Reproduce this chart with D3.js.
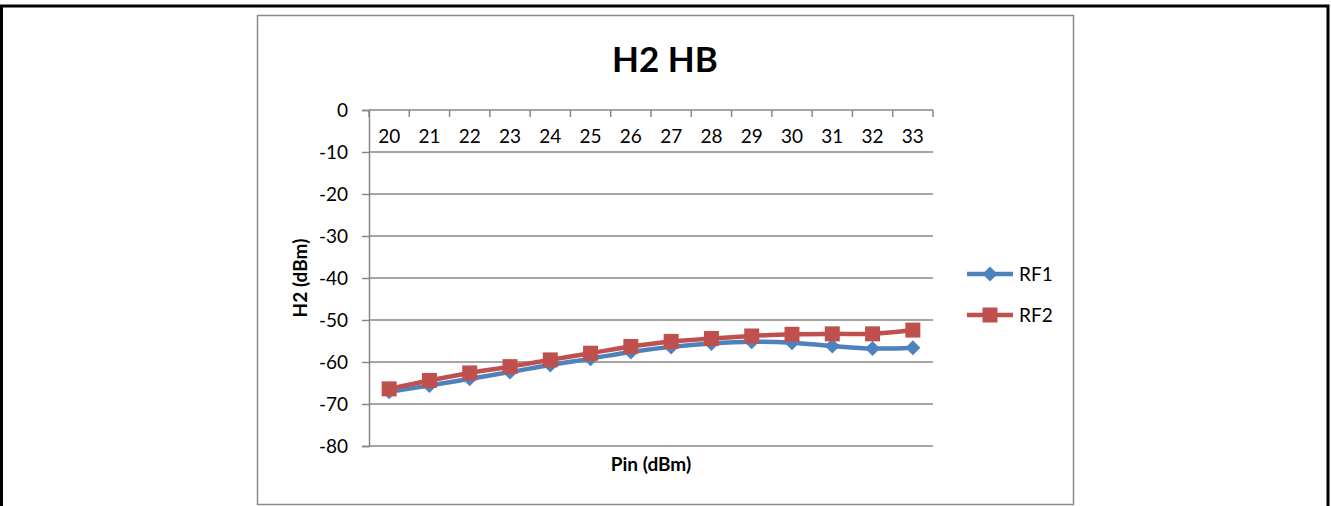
<!DOCTYPE html>
<html>
<head>
<meta charset="utf-8">
<script src="https://cdn.jsdelivr.net/npm/d3@7"></script>
<style>
  html, body { margin: 0; padding: 0; background: #fff; }
  svg { display: block; }
  text { font-family: Lato, "Open Sans", sans-serif; fill: #000; }
</style>
</head>
<body>
<svg id="chart" width="1331" height="506"></svg>
<script>
// Input power steps (dBm)
const categories = ["20","21","22","23","24","25","26","27","28","29","30","31","32","33"];
// Second harmonic level, high band (dBm)
const rf1 = [-67.1, -65.6, -64.0, -62.4, -60.7, -59.2, -57.6, -56.4, -55.6, -55.2, -55.4, -56.2, -56.8, -56.6];
const rf2 = [-66.4, -64.4, -62.6, -61.1, -59.5, -57.9, -56.3, -55.1, -54.4, -53.8, -53.4, -53.3, -53.3, -52.4];
const yTicks = [0, -10, -20, -30, -40, -50, -60, -70, -80];
const seriesNames = ["RF1", "RF2"];

const series = [
  { name: seriesNames[0], values: rf1, color: "#4F81BD", marker: "diamond" },
  { name: seriesNames[1], values: rf2, color: "#C0504D", marker: "square" }
];

const svg = d3.select("#chart");

// Page frame
svg.append("path")
  .attr("d", "M1.5,506 L1.5,6 L1328,6 L1328,506")
  .attr("fill", "none").attr("stroke", "#000").attr("stroke-width", 3);

// Chart area frame
svg.append("rect")
  .attr("x", 257.5).attr("y", 15.5).attr("width", 816).attr("height", 489)
  .attr("fill", "#fff").attr("stroke", "#8a8a8a").attr("stroke-width", 1.5);

const plot = { left: 369, right: 933, top: 110, bottom: 446 };

const x = d3.scaleBand().domain(categories).range([plot.left, plot.right]);
const y = d3.scaleLinear().domain([-80, 0]).range([plot.bottom, plot.top]);

const gridColor = "#878787";

// Horizontal gridlines
svg.append("g").selectAll("line").data(yTicks).join("line")
  .attr("x1", plot.left).attr("x2", plot.right)
  .attr("y1", d => y(d)).attr("y2", d => y(d))
  .attr("stroke", gridColor).attr("stroke-width", 1.5);

// Value axis (plain hyphen for negative numbers)
const yAxis = svg.append("g")
  .attr("transform", `translate(${plot.left},0)`)
  .call(d3.axisLeft(y).tickValues(yTicks).tickSize(7).tickPadding(14).tickFormat(d => String(d)));
yAxis.select(".domain").attr("stroke", gridColor).attr("stroke-width", 1.5);
yAxis.selectAll(".tick line").attr("stroke", gridColor).attr("stroke-width", 1.5);
yAxis.selectAll(".tick text")
  .style("font-family", "Lato, sans-serif").style("font-size", "19px").attr("fill", "#000");

// Category axis sits on the zero line
const xAxis = svg.append("g")
  .attr("transform", `translate(0,${y(0)})`)
  .call(d3.axisBottom(x).tickSize(0).tickPadding(20));
xAxis.select(".domain").remove();
xAxis.selectAll(".tick text")
  .style("font-family", "Lato, sans-serif").style("font-size", "19px").attr("fill", "#000");

// Tick marks between categories
const boundaries = categories.map(c => x(c)).concat([x(categories[categories.length - 1]) + x.bandwidth()]);
svg.append("g").selectAll("line").data(boundaries).join("line")
  .attr("x1", d => d).attr("x2", d => d)
  .attr("y1", y(0)).attr("y2", y(0) + 7)
  .attr("stroke", gridColor).attr("stroke-width", 1.5);

// Title
svg.append("text")
  .attr("x", 665).attr("y", 72)
  .attr("text-anchor", "middle")
  .style("font-size", "35px").style("font-weight", "bold")
  .text("H2 HB");

// Axis titles
svg.append("text")
  .attr("transform", `translate(307,${(plot.top + plot.bottom) / 2}) rotate(-90)`)
  .attr("text-anchor", "middle")
  .style("font-size", "19px").style("font-weight", "bold")
  .text("H2 (dBm)");

svg.append("text")
  .attr("x", (plot.left + plot.right) / 2).attr("y", 471)
  .attr("text-anchor", "middle")
  .style("font-size", "19px").style("font-weight", "bold")
  .text("Pin (dBm)");

// Marker shapes
function markerPath(type) {
  if (type === "diamond") {
    const r = 7.5;
    return `M0,${-r}L${r},0L0,${r}L${-r},0Z`;
  }
  const s = 7.5;
  return `M${-s},${-s}H${s}V${s}H${-s}Z`;
}

const line = d3.line()
  .x((d, i) => x(categories[i]) + x.bandwidth() / 2)
  .y(d => y(d))
  .curve(d3.curveCatmullRom.alpha(0.5));

series.forEach(s => {
  const g = svg.append("g");
  g.append("path")
    .attr("d", line(s.values))
    .attr("fill", "none").attr("stroke", s.color).attr("stroke-width", 4.5)
    .attr("stroke-linejoin", "round");
  g.selectAll("path.m").data(s.values).join("path")
    .attr("class", "m")
    .attr("transform", (d, i) => `translate(${x(categories[i]) + x.bandwidth() / 2},${y(d)})`)
    .attr("d", markerPath(s.marker))
    .attr("fill", s.color);
});

// Legend
const legendY = d3.scalePoint().domain(seriesNames).range([274, 315]);
const legend = svg.append("g").selectAll("g").data(series).join("g")
  .attr("transform", d => `translate(967,${legendY(d.name)})`);
legend.append("line")
  .attr("x1", 0).attr("x2", 46).attr("y1", 0).attr("y2", 0)
  .attr("stroke", d => d.color).attr("stroke-width", 4.5);
legend.append("path")
  .attr("transform", "translate(23,0)")
  .attr("d", d => markerPath(d.marker))
  .attr("fill", d => d.color);
legend.append("text")
  .attr("x", 52).attr("y", 0).attr("dy", "0.35em")
  .style("font-size", "19px")
  .text(d => d.name);
</script>
</body>
</html>
